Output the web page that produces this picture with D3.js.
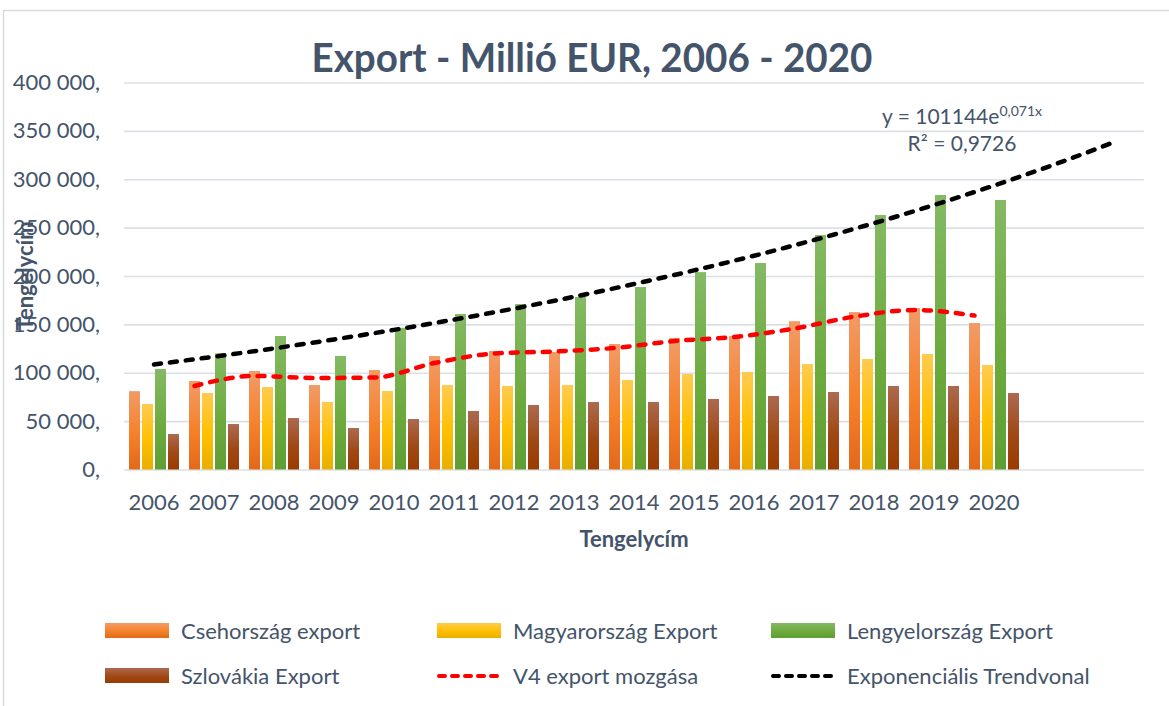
<!DOCTYPE html>
<html>
<head>
<meta charset="utf-8">
<script src="https://cdn.jsdelivr.net/npm/d3@7"></script>
<style>
  body { margin: 0; background: #fff; }
  svg text { font-family: Lato, "Open Sans", sans-serif; fill: #44546A; }
</style>
</head>
<body>
<div id="chart"></div>
<script>
// Export data, million EUR
const years = ["2006", "2007", "2008", "2009", "2010", "2011", "2012", "2013",
               "2014", "2015", "2016", "2017", "2018", "2019", "2020"];
const czExport = [81000, 91500, 101800, 87300, 102800, 117300, 122500, 121500,
                  129700, 135900, 138000, 153300, 162700, 166800, 151400];
const huExport = [67700, 79100, 85300, 69800, 81100, 87300, 86300, 87300,
                  92500, 98700, 100800, 109000, 114200, 119400, 108000];
const plExport = [103900, 120000, 138000, 117300, 146500, 160700, 171000, 178300,
                  188600, 204000, 213400, 242400, 263000, 283700, 278600];
const skExport = [36700, 47000, 53200, 42900, 52200, 60500, 66700, 69800,
                  69800, 72900, 76000, 80100, 86300, 86300, 79100];
// "V4 export mozgása" line, 2007..2020
const v4Moving = [86300, 96700, 94600, 95100, 110100, 119900, 122000, 125600,
                  132800, 137000, 145700, 158000, 164800, 159100];
// exponential trend line, 2006..2020 plus two forecast slots
const trendValues = [108600, 116600, 125200, 134400, 144300, 154900, 166300, 178500,
                     191700, 205800, 220900, 237200, 254600, 273400, 293500, 315100, 338300];
const yTicks = [0, 50000, 100000, 150000, 200000, 250000, 300000, 350000, 400000];

const series = [
  {key: "cz", name: "Csehország export", values: czExport, c: ["#F29B66", "#F5812A", "#E2691A"]},
  {key: "hu", name: "Magyarország Export", values: huExport, c: ["#FFCB4F", "#FFC000", "#E8AE00"]},
  {key: "pl", name: "Lengyelország Export", values: plExport, c: ["#84BA64", "#6EAB3F", "#5E9E33"]},
  {key: "sk", name: "Szlovákia Export", values: skExport, c: ["#AC6A50", "#A04814", "#9A3C00"]}
];

const width = 1169, height = 706;
const svg = d3.select("#chart").append("svg")
    .attr("width", width)
    .attr("height", height);

// gradients for the bars
const defs = svg.append("defs");
series.forEach(s => {
  const g = defs.append("linearGradient")
      .attr("id", "grad-" + s.key)
      .attr("x1", 0).attr("y1", 0).attr("x2", 0).attr("y2", 1);
  g.append("stop").attr("offset", "0%").attr("stop-color", s.c[0]);
  g.append("stop").attr("offset", "55%").attr("stop-color", s.c[1]);
  g.append("stop").attr("offset", "100%").attr("stop-color", s.c[2]);
});

// chart frame
svg.append("path")
    .attr("d", "M3.5,706 V10.5 H1169")
    .attr("fill", "none")
    .attr("stroke", "#D9D9D9")
    .attr("stroke-width", 1.5);

// scales
const slots = d3.range(trendValues.length);   // 15 years + 2 forecast slots
const x = d3.scaleBand().domain(slots).range([124, 1144]).padding(0);
const xSub = d3.scaleBand()
    .domain(series.map(s => s.key))
    .range([5, x.bandwidth() - 5])
    .paddingInner(0.154);
const y = d3.scaleLinear().domain([0, 400000]).range([469.5, 82.5]);

const huLocale = d3.formatLocale({decimal: ",", thousands: " ", grouping: [3], currency: ["", ""]});
const fmt = huLocale.format(",");

// y axis + gridlines
const yAxis = d3.axisLeft(y)
    .tickValues(yTicks)
    .tickSize(-(1144 - 124))
    .tickPadding(24)
    .tickFormat(d => fmt(d) + ",");

const gy = svg.append("g")
    .attr("transform", "translate(124,0)")
    .call(yAxis);
gy.select(".domain").remove();
gy.selectAll(".tick line").attr("stroke", "#DCE0E6").attr("stroke-width", 1.6);
gy.selectAll(".tick text").attr("font-size", 22).attr("fill", "#44546A");

// bars
const groups = svg.append("g").selectAll("g")
    .data(years.map((yr, i) => i))
    .join("g")
    .attr("transform", i => "translate(" + x(i) + ",0)");

groups.selectAll("rect")
    .data(i => series.map(s => ({key: s.key, v: s.values[i]})))
    .join("rect")
    .attr("x", d => xSub(d.key))
    .attr("width", xSub.bandwidth())
    .attr("y", d => y(d.v))
    .attr("height", d => y(0) - y(d.v))
    .attr("fill", d => "url(#grad-" + d.key + ")");

// x axis labels
const xAxis = d3.axisBottom(x)
    .tickValues(d3.range(years.length))
    .tickSize(0)
    .tickPadding(25)
    .tickFormat(i => years[i]);

const gx = svg.append("g")
    .attr("transform", "translate(0," + y(0) + ")")
    .call(xAxis);
gx.select(".domain").remove();
gx.selectAll(".tick text").attr("font-size", 22).attr("fill", "#44546A");

// V4 moving line, sits on the Czech bars
const czCenter = xSub("cz") + xSub.bandwidth() / 2;
const redLine = d3.line()
    .x((d, i) => x(i + 1) + czCenter)
    .y(d => y(d))
    .curve(d3.curveMonotoneX);

svg.append("path")
    .datum(v4Moving)
    .attr("d", redLine)
    .attr("fill", "none")
    .attr("stroke", "#FF0000")
    .attr("stroke-width", 4.5)
    .attr("stroke-linecap", "round")
    .attr("stroke-dasharray", "7 9");

// exponential trend line
const blackLine = d3.line()
    .x((d, i) => x(i) + x.bandwidth() / 2)
    .y(d => y(d))
    .curve(d3.curveMonotoneX);

svg.append("path")
    .datum(trendValues)
    .attr("d", blackLine)
    .attr("fill", "none")
    .attr("stroke", "#000")
    .attr("stroke-width", 4.5)
    .attr("stroke-linecap", "round")
    .attr("stroke-dasharray", "7 9");

// trend equation
const eq = svg.append("text")
    .attr("x", 962).attr("y", 124)
    .attr("text-anchor", "middle")
    .attr("font-size", 21);
eq.append("tspan").text("y = 101144e");
eq.append("tspan").attr("dy", -8).attr("font-size", 14).text("0,071x");

svg.append("text")
    .attr("x", 962).attr("y", 151)
    .attr("text-anchor", "middle")
    .attr("font-size", 21)
    .text("R² = 0,9726");

// title
svg.append("text")
    .attr("x", 592).attr("y", 72)
    .attr("text-anchor", "middle")
    .attr("font-size", 40)
    .attr("font-weight", "bold")
    .attr("textLength", 561)
    .attr("lengthAdjust", "spacingAndGlyphs")
    .text("Export - Millió EUR, 2006 - 2020");

// axis titles
svg.append("text")
    .attr("x", 634).attr("y", 547)
    .attr("text-anchor", "middle")
    .attr("font-size", 22)
    .attr("font-weight", "bold")
    .text("Tengelycím");

svg.append("text")
    .attr("transform", "translate(33,276) rotate(-90)")
    .attr("text-anchor", "middle")
    .attr("font-size", 22)
    .attr("font-weight", "bold")
    .text("Tengelycím");

// legend
const legendItems = [
  {name: series[0].name, kind: "bar", key: "cz", col: 0, row: 0},
  {name: series[1].name, kind: "bar", key: "hu", col: 1, row: 0},
  {name: series[2].name, kind: "bar", key: "pl", col: 2, row: 0},
  {name: series[3].name, kind: "bar", key: "sk", col: 0, row: 1},
  {name: "V4 export mozgása", kind: "line", color: "#FF0000", col: 1, row: 1},
  {name: "Exponenciális Trendvonal", kind: "line", color: "#000", col: 2, row: 1}
];
const legendCols = [105, 437, 771];
const legendRows = [631, 676];

const li = svg.append("g").selectAll("g")
    .data(legendItems)
    .join("g")
    .attr("transform", d => "translate(" + legendCols[d.col] + "," + legendRows[d.row] + ")");

li.filter(d => d.kind === "bar").append("rect")
    .attr("x", 0).attr("y", -8)
    .attr("width", 64).attr("height", 15)
    .attr("fill", d => "url(#grad-" + d.key + ")");

li.filter(d => d.kind === "line").append("line")
    .attr("x1", 2).attr("x2", 63)
    .attr("y1", 0).attr("y2", 0)
    .attr("stroke", d => d.color)
    .attr("stroke-width", 4)
    .attr("stroke-linecap", "round")
    .attr("stroke-dasharray", "6 7");

li.append("text")
    .attr("x", 76)
    .attr("y", 0)
    .attr("dy", "0.35em")
    .attr("font-size", 22)
    .text(d => d.name);
</script>
</body>
</html>
